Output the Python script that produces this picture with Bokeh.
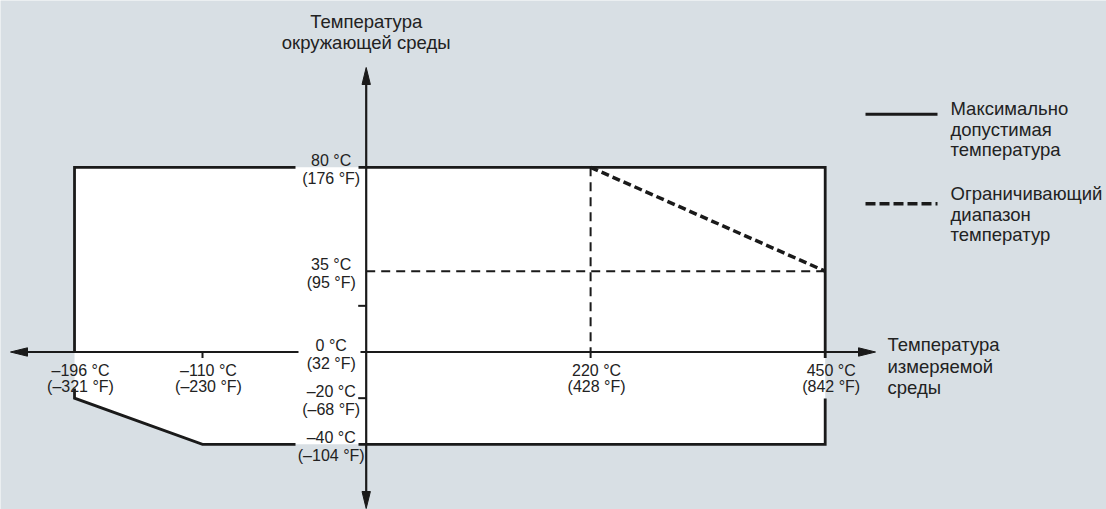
from bokeh.plotting import figure
from bokeh.models import ColumnDataSource
from bokeh.core.properties import value
from bokeh.embed import file_html
from bokeh.resources import INLINE

# ---------------- data ----------------
X_TICKS = [-196, -110, 220, 450]
X_LABELS_C = ["–196 °C", "–110 °C", "220 °C", "450 °C"]
X_LABELS_F = ["(–321 °F)", "(–230 °F)", "(428 °F)", "(842 °F)"]

Y_TICKS = [80, 35, 0, -20, -40]
Y_LABELS_C = ["80 °C", "35 °C", "0 °C", "–20 °C", "–40 °C"]
Y_LABELS_F = ["(176 °F)", "(95 °F)", "(32 °F)", "(–68 °F)", "(–104 °F)"]
Y_MINOR = [20, -20]
X_MINOR = [-110, 220, 450]

# maximum permissible temperature envelope: process temperature vs ambient temperature
MAX_PROC = [-196, 450, 450, -110, -196]
MAX_AMB = [80, 80, -40, -40, -20]

# limiting temperature range (derating line)
LIM_PROC = [220, 450]
LIM_AMB = [80, 35]

TITLE_AMB = ["Температура", "окружающей среды"]
TITLE_PROC = ["Температура", "измеряемой", "среды"]
LEGEND_SOLID = ["Максимально", "допустимая", "температура"]
LEGEND_DASHED = ["Ограничивающий", "диапазон", "температур"]

# ---------------- layout / scale ----------------
W, H = 1106, 509
BG = "#d8dfe4"
INK = "#1a1a1a"
TXT = "#222222"
FONT = value("Liberation Sans")

PX_PER_X = 1.02       # px per °C on the positive process side
NEG_STRETCH = 1.459   # schematic stretch of the negative process side
PX_PER_Y = 2.3083     # px per °C ambient
ORIGIN_X = 365.7      # frame px of the axes crossing
ORIGIN_Y = 351.5

x_range = (-ORIGIN_X / PX_PER_X, (W - ORIGIN_X) / PX_PER_X)
y_range = (-(H - ORIGIN_Y) / PX_PER_Y, ORIGIN_Y / PX_PER_Y)


def xu(t):
    """schematic process-temperature axis: negative side stretched"""
    return t * NEG_STRETCH if t < 0 else t


def dx(px):
    return px / PX_PER_X


def dy(px):
    return px / PX_PER_Y


def sx(X):
    return (X - ORIGIN_X) / PX_PER_X


def sy(Y):
    return (ORIGIN_Y - Y) / PX_PER_Y


p = figure(width=W, height=H, x_range=x_range, y_range=y_range,
           output_backend="svg", toolbar_location=None, min_border=0)
p.axis.visible = False
p.grid.visible = False
p.outline_line_color = None
p.background_fill_color = BG
p.border_fill_color = BG

# ---- white operating area ----
p.patch([xu(t) for t in MAX_PROC], MAX_AMB, fill_color="white", line_color=None)

# ---- envelope outline (with gaps around labels) ----
t_lo, t_hi, t_knee = MAX_PROC[0], MAX_PROC[1], MAX_PROC[3]
a_hi, a_lo, a_corner = MAX_AMB[0], MAX_AMB[2], MAX_AMB[4]
gap_l, gap_r = dx(-70.7), dx(-7.7)
outline_xs = [
    [gap_l, xu(t_lo), xu(t_lo)],
    [xu(t_lo), xu(t_lo), xu(t_knee), gap_l],
    [gap_r, xu(t_hi), xu(t_hi)],
    [xu(t_hi), xu(t_hi), gap_r],
]
outline_ys = [
    [a_hi, a_hi, 0],
    [-dy(36.5), a_corner, a_lo, a_lo],
    [a_hi, a_hi, -dy(6)],
    [-dy(46.5), a_lo, a_lo],
]
p.multi_line(outline_xs, outline_ys, line_color=INK, line_width=2.8,
             line_join="miter")

# ---- axes ----
ax_left, ax_right = sx(10), sx(875)
ay_top, ay_bot = sy(67), sy(508)
head_len, head_half = 17, 4.2
p.multi_line(
    [[ax_left + dx(8), dx(-67.7)], [dx(-5.7), ax_right - dx(8)], [0, 0]],
    [[0, 0], [0, 0], [ay_top - dy(8), ay_bot + dy(8)]],
    line_color=INK, line_width=2.2)
# ticks
p.multi_line([[xu(t), xu(t)] for t in X_MINOR[:2]],
             [[0, -dy(6)] for _ in X_MINOR[:2]], line_color=INK, line_width=2)
p.multi_line([[dx(-8), 0] for _ in Y_MINOR], [[v, v] for v in Y_MINOR],
             line_color=INK, line_width=2)
# arrow heads
p.patches(
    [[ax_left, ax_left + dx(head_len), ax_left + dx(head_len)],
     [ax_right, ax_right - dx(head_len), ax_right - dx(head_len)],
     [0, dx(-head_half), dx(head_half)],
     [0, dx(-head_half), dx(head_half)]],
    [[0, dy(head_half), -dy(head_half)],
     [0, dy(head_half), -dy(head_half)],
     [ay_top, ay_top - dy(head_len), ay_top - dy(head_len)],
     [ay_bot, ay_bot + dy(head_len), ay_bot + dy(head_len)]],
    fill_color=INK, line_color=INK, line_width=1)

# ---- limiting range ----
p.multi_line([[xu(LIM_PROC[0]), xu(LIM_PROC[0])], [0, xu(LIM_PROC[1])]],
             [[LIM_AMB[0], 0], [LIM_AMB[1], LIM_AMB[1]]],
             line_color=INK, line_width=2, line_dash="9 6")
p.line([xu(t) for t in LIM_PROC], LIM_AMB, line_color=INK, line_width=3.5,
       line_dash="8 4")

# ---- tick labels ----
xs_src = ColumnDataSource(dict(x=[xu(t) for t in X_TICKS], y=[0] * len(X_TICKS),
                               c=X_LABELS_C, f=X_LABELS_F))
for col, off in (("c", 18.5), ("f", 34.5)):
    p.text(x="x", y="y", text=col, source=xs_src, x_offset=6, y_offset=off,
           text_align="center", text_baseline="middle", text_font=FONT,
           text_font_size="16px", text_color=TXT)

ys_src = ColumnDataSource(dict(x=[0] * len(Y_TICKS), y=Y_TICKS,
                               c=Y_LABELS_C, f=Y_LABELS_F))
for col, off in (("c", -6.5), ("f", 11.5)):
    p.text(x="x", y="y", text=col, source=ys_src, x_offset=-35, y_offset=off,
           text_align="center", text_baseline="middle", text_font=FONT,
           text_font_size="16px", text_color=TXT)

# ---- axis titles ----
def text_block(lines, X, centers, align):
    p.text(x=[sx(X)] * len(lines), y=[sy(c) for c in centers], text=lines,
           text_align=align, text_baseline="middle", text_font=FONT,
           text_font_size="18.5px", text_color=TXT)


text_block(TITLE_AMB, 365.7, [21, 41.5], "center")
text_block(TITLE_PROC, 887, [344, 365.5, 386.5], "left")

# ---- legend ----
p.line([sx(865), sx(937)], [sy(113.7)] * 2, line_color=INK, line_width=3)
text_block(LEGEND_SOLID, 950, [107.5, 128.5, 148.5], "left")
p.line([sx(865), sx(937)], [sy(203.3)] * 2, line_color=INK, line_width=3.5,
       line_dash="10 4")
text_block(LEGEND_DASHED, 950, [193, 213.5, 233.5], "left")

open("out.html", "w").write(file_html(p, INLINE))
